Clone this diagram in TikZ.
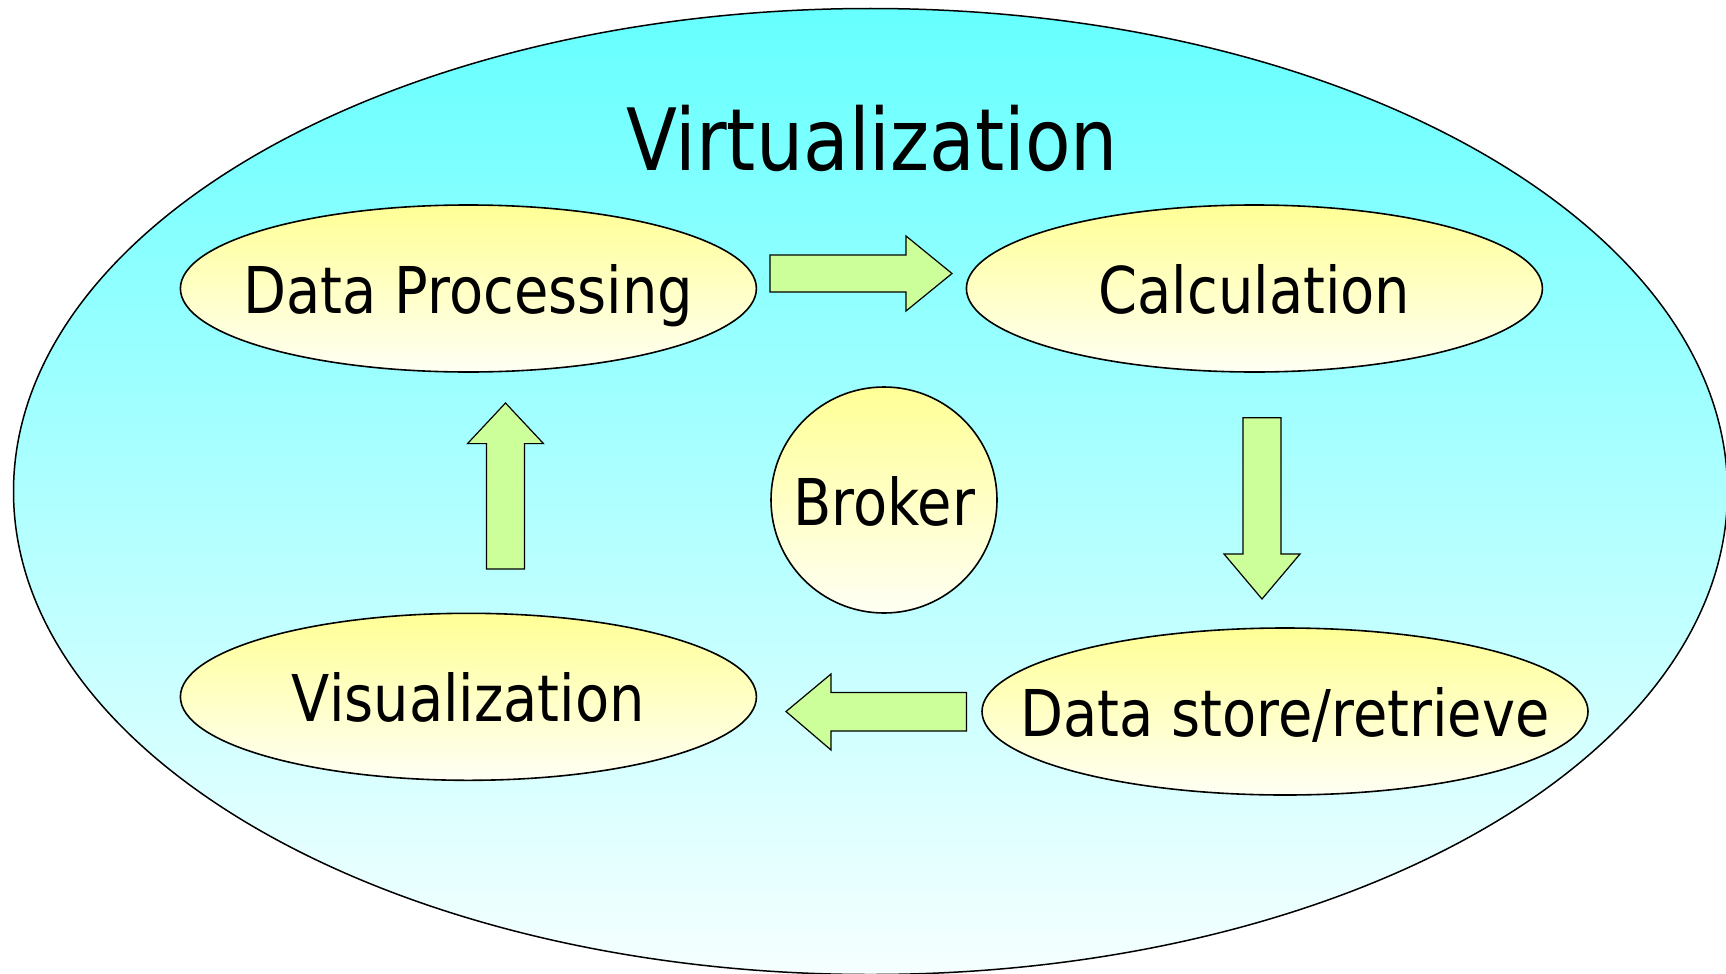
\documentclass[tikz,border=0pt]{standalone}
\usepackage{fontspec}
\setmainfont{DejaVu Sans}[FakeStretch=0.866]
\usetikzlibrary{shapes.geometric}

\definecolor{skytop}{RGB}{102,255,255}
\definecolor{skybot}{RGB}{246,255,255}
\definecolor{yeltop}{RGB}{255,255,150}
\definecolor{yelbot}{RGB}{255,255,244}
\definecolor{arrowgreen}{RGB}{204,255,153}

\tikzset{
  realm/.style={ellipse, draw=black, line width=1.5pt, inner sep=0pt,
    top color=skytop, bottom color=skybot},
  stage/.style={ellipse, draw=black, line width=1.6pt, inner sep=0pt,
    minimum width=576pt, minimum height=167pt,
    top color=yeltop, bottom color=yelbot},
  hub/.style={circle, draw=black, line width=1.6pt, inner sep=0pt,
    minimum size=226pt, top color=yeltop, bottom color=yelbot},
  caption/.style={inner sep=0pt, text height=50pt, text depth=0pt,
    font=\fontsize{64.5}{70}\selectfont},
  headline/.style={inner sep=0pt, anchor=base, font=\fontsize{86}{90}\selectfont},
  blockarrow/.style={draw=black, line width=1.2pt, fill=arrowgreen, line join=miter},
}

\begin{document}
\begin{tikzpicture}[x=1pt, y=-1pt]
\useasboundingbox (0,0) rectangle (1726,974);

% outer region
\node[realm, minimum width=1714pt, minimum height=966pt] (outer) at (870.5,491.5) {};
\node[headline] (title) at (872,170.6) {Virtualization};

% the four stages and the broker
\node[stage] (proc) at (468.4,288.5) {};
\node[stage] (calc) at (1254.4,288.5) {};
\node[stage] (vis)  at (468.4,696.8) {};
\node[stage, minimum width=606pt] (store) at (1285,711.5) {};
\node[hub] (broker) at (884,500) {};

\node[caption] (proctext)   at (proc)   {Data Processing};
\node[caption] (calctext)   at (calc)   {Calculation};
\node[caption] (vistext)    at (vis)    {Visualization};
\node[caption] (storetext)  at (store)  {Data store/retrieve};
\node[caption] (brokertext) at (broker) {Broker};

% block arrows around the cycle
\draw[blockarrow] (770,255) -- (906,255) -- (906,236) -- (952,273.5)
  -- (906,311) -- (906,292) -- (770,292) -- cycle;
\draw[blockarrow] (1243,417.7) -- (1281,417.7) -- (1281,554) -- (1300,554)
  -- (1262,599) -- (1224,554) -- (1243,554) -- cycle;
\draw[blockarrow] (966.5,692.5) -- (831,692.5) -- (831,674) -- (786,711.5)
  -- (831,750) -- (831,731) -- (966.5,731) -- cycle;
\draw[blockarrow] (486.5,569) -- (486.5,443.6) -- (467.5,443.6) -- (505.5,403)
  -- (543.5,443.6) -- (524.5,443.6) -- (524.5,569) -- cycle;
\end{tikzpicture}
\end{document}
